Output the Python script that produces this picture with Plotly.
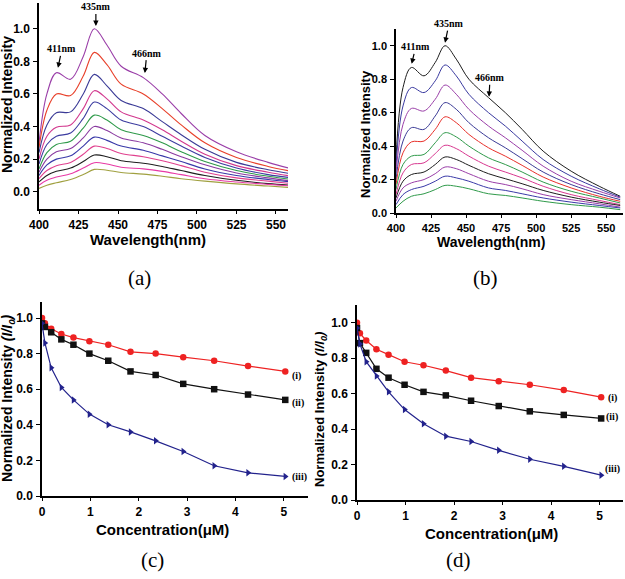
import plotly.graph_objects as go

# ---- panel (a): emission spectra ----
wl = [400, 405, 411, 420, 428, 435, 443, 452, 466, 478, 490, 505, 525, 545, 560]

spec_a = [
    [0.30, 0.60, 0.73, 0.69, 0.83, 1.00, 0.90, 0.77, 0.70, 0.60, 0.48, 0.345, 0.245, 0.18, 0.14],
    [0.27, 0.50, 0.60, 0.59, 0.71, 0.855, 0.78, 0.66, 0.60, 0.51, 0.41, 0.30, 0.21, 0.155, 0.125],
    [0.24, 0.41, 0.485, 0.49, 0.60, 0.72, 0.65, 0.56, 0.51, 0.43, 0.35, 0.26, 0.18, 0.135, 0.11],
    [0.20, 0.34, 0.395, 0.41, 0.51, 0.62, 0.57, 0.49, 0.44, 0.38, 0.31, 0.23, 0.16, 0.12, 0.095],
    [0.17, 0.29, 0.34, 0.36, 0.45, 0.55, 0.51, 0.44, 0.40, 0.34, 0.28, 0.21, 0.145, 0.105, 0.085],
    [0.14, 0.24, 0.29, 0.31, 0.39, 0.47, 0.44, 0.38, 0.345, 0.30, 0.245, 0.185, 0.13, 0.095, 0.075],
    [0.12, 0.20, 0.245, 0.265, 0.33, 0.40, 0.375, 0.33, 0.30, 0.26, 0.215, 0.165, 0.115, 0.085, 0.065],
    [0.10, 0.165, 0.20, 0.22, 0.28, 0.335, 0.315, 0.28, 0.255, 0.22, 0.185, 0.14, 0.10, 0.075, 0.06],
    [0.08, 0.13, 0.16, 0.18, 0.23, 0.28, 0.265, 0.235, 0.215, 0.19, 0.16, 0.12, 0.085, 0.065, 0.05],
    [0.06, 0.10, 0.125, 0.145, 0.185, 0.225, 0.215, 0.19, 0.175, 0.155, 0.13, 0.10, 0.07, 0.05, 0.04],
    [0.04, 0.07, 0.09, 0.11, 0.145, 0.178, 0.17, 0.15, 0.14, 0.125, 0.105, 0.08, 0.06, 0.045, 0.035],
    [0.02, 0.04, 0.055, 0.075, 0.105, 0.137, 0.132, 0.118, 0.108, 0.095, 0.08, 0.065, 0.048, 0.035, 0.025],
]
colors_a = ["#9a3ea8", "#e8402a", "#3a3a96", "#d2388e", "#3c3ca0", "#2f9a4a",
            "#8a3aa0", "#3838a8", "#e0408e", "#1e1e1e", "#e83aa6", "#a0a040"]

# ---- panel (b): emission spectra ----
spec_b = [
    [0.33, 0.75, 0.87, 0.82, 0.90, 1.00, 0.92, 0.80, 0.69, 0.60, 0.50, 0.37, 0.25, 0.16, 0.10],
    [0.28, 0.64, 0.75, 0.72, 0.79, 0.885, 0.82, 0.71, 0.60, 0.52, 0.43, 0.32, 0.22, 0.145, 0.095],
    [0.24, 0.53, 0.625, 0.61, 0.68, 0.765, 0.71, 0.62, 0.52, 0.45, 0.375, 0.28, 0.19, 0.13, 0.09],
    [0.20, 0.43, 0.51, 0.50, 0.58, 0.66, 0.62, 0.54, 0.45, 0.39, 0.325, 0.245, 0.17, 0.115, 0.08],
    [0.17, 0.36, 0.425, 0.43, 0.50, 0.575, 0.54, 0.47, 0.39, 0.34, 0.285, 0.215, 0.15, 0.10, 0.07],
    [0.14, 0.29, 0.34, 0.35, 0.42, 0.48, 0.455, 0.40, 0.33, 0.29, 0.245, 0.185, 0.13, 0.09, 0.06],
    [0.11, 0.24, 0.29, 0.30, 0.355, 0.405, 0.385, 0.34, 0.28, 0.245, 0.21, 0.16, 0.11, 0.075, 0.05],
    [0.09, 0.19, 0.23, 0.245, 0.29, 0.335, 0.32, 0.285, 0.235, 0.205, 0.175, 0.135, 0.095, 0.065, 0.045],
    [0.07, 0.15, 0.18, 0.20, 0.235, 0.275, 0.265, 0.235, 0.19, 0.17, 0.145, 0.11, 0.08, 0.055, 0.035],
    [0.05, 0.11, 0.14, 0.16, 0.19, 0.22, 0.21, 0.19, 0.15, 0.135, 0.115, 0.09, 0.065, 0.045, 0.03],
    [0.03, 0.07, 0.10, 0.115, 0.14, 0.165, 0.16, 0.145, 0.115, 0.105, 0.09, 0.07, 0.05, 0.035, 0.02],
]
colors_b = ["#1e1e1e", "#3a3aa0", "#9a3ea8", "#3a3a96", "#e8302a", "#2f9a4a",
            "#d83890", "#1e1e1e", "#9a3ea8", "#3a3aa8", "#2f9a4a"]

# ---- panels (c), (d): quenching curves ----
conc = [0, 0.06, 0.19, 0.4, 0.65, 0.98, 1.37, 1.83, 2.35, 2.92, 3.56, 4.26, 5.03]

c_i = [1.0, 0.97, 0.94, 0.91, 0.89, 0.87, 0.85, 0.81, 0.80, 0.78, 0.76, 0.73, 0.70]
c_ii = [0.97, 0.95, 0.92, 0.88, 0.85, 0.80, 0.76, 0.70, 0.68, 0.63, 0.60, 0.57, 0.54]
c_iii = [0.97, 0.86, 0.72, 0.61, 0.54, 0.46, 0.40, 0.36, 0.31, 0.25, 0.17, 0.13, 0.11]

d_i = [1.0, 0.94, 0.90, 0.85, 0.82, 0.78, 0.76, 0.73, 0.69, 0.67, 0.65, 0.62, 0.58]
d_ii = [0.97, 0.885, 0.83, 0.74, 0.69, 0.65, 0.61, 0.59, 0.56, 0.53, 0.50, 0.48, 0.46]
d_iii = [0.97, 0.88, 0.78, 0.70, 0.61, 0.51, 0.43, 0.36, 0.33, 0.28, 0.23, 0.19, 0.14]

W, H = 625, 579
SANS = "Liberation Sans, Arial"
SERIF = "Liberation Serif, Times New Roman"


def px_x(a, b):
    return [a / W, b / W]


def px_y(top, bottom):
    return [1 - bottom / H, 1 - top / H]


fig = go.Figure()

for vals, col in zip(spec_a, colors_a):
    fig.add_trace(go.Scatter(x=wl, y=vals, mode="lines", line=dict(color=col, width=1.1, shape="spline", smoothing=1.0),
                             xaxis="x", yaxis="y", showlegend=False))
for vals, col in zip(spec_b, colors_b):
    fig.add_trace(go.Scatter(x=wl, y=vals, mode="lines", line=dict(color=col, width=1.0, shape="spline", smoothing=1.0),
                             xaxis="x2", yaxis="y2", showlegend=False))

series_cd = [
    ("x3", "y3", c_i, "#ee2222", "circle"),
    ("x3", "y3", c_ii, "#111111", "square"),
    ("x3", "y3", c_iii, "#22228c", "triangle-right"),
    ("x4", "y4", d_i, "#ee2222", "circle"),
    ("x4", "y4", d_ii, "#111111", "square"),
    ("x4", "y4", d_iii, "#22228c", "triangle-right"),
]
for xa, ya, vals, col, sym in series_cd:
    fig.add_trace(go.Scatter(x=conc, y=vals, mode="lines+markers", line=dict(color=col, width=1.2),
                             marker=dict(color=col, symbol=sym, size=6.5), xaxis=xa, yaxis=ya, showlegend=False))


def ax(domain, rng, tickvals, fmt, size=11, anchor=None, tl=4):
    d = dict(domain=domain, range=rng, tickvals=tickvals, showline=True, linecolor="black", linewidth=1.5,
             ticks="outside", ticklen=tl, tickwidth=1.2, tickcolor="black", showgrid=False, zeroline=False,
             automargin=False, ticklabelstandoff=1,
             tickfont=dict(family=SANS, size=size, color="black", weight="bold"), mirror=False)
    if fmt:
        d["tickformat"] = fmt
    if anchor:
        d["anchor"] = anchor
    return d


yt = [0, 0.2, 0.4, 0.6, 0.8, 1.0]
fig.update_layout(
    width=W, height=H, margin=dict(l=0, r=0, t=0, b=0, autoexpand=False),
    paper_bgcolor="white", plot_bgcolor="white",
    xaxis=ax(px_x(39, 288), [400, 557.6], [400, 425, 450, 475, 500, 525, 550], None, 12, "y", 3),
    yaxis=ax(px_y(3, 209), [-0.106, 1.158], yt, ".1f", 12, "x"),
    xaxis2=ax(px_x(396, 623), [400, 562], [400, 425, 450, 475, 500, 525, 550], None, 11, "y2", 3),
    yaxis2=ax(px_y(29, 213), [0, 1.10], yt, ".1f", 11, "x2"),
    xaxis3=ax(px_x(42, 308), [0, 5.5], [0, 1, 2, 3, 4, 5], None, 12, "y3", 3),
    yaxis3=ax(px_y(302, 496), [0, 1.09], yt, ".1f", 12, "x3"),
    xaxis4=ax(px_x(357, 623), [0, 5.48], [0, 1, 2, 3, 4, 5], None, 12, "y4", 3),
    yaxis4=ax(px_y(305, 500), [0, 1.10], yt, ".1f", 12, "x4"),
)

ann = []


def title(text, x, y, size=14, angle=0):
    ann.append(dict(text="<b>" + text + "</b>", x=x / W, y=1 - y / H, xref="paper", yref="paper", showarrow=False,
                    textangle=angle, font=dict(family=SANS, size=size, color="black"), xanchor="center", yanchor="middle"))


title("Normalized Intensity", 7, 105, 14, -90)
title("Wavelength(nm)", 148, 240, 15)
title("Normalized Intensity", 366, 134, 13, -90)
title("Wavelength(nm)", 491, 242, 14)
title("Normalized Intensity <i>(I/I<sub>0</sub>)</i>", 8, 398, 14, -90)
title("Concentration(\u03bcM)", 163, 529, 15)
title("Normalized Intensity <i>(I/I<sub>0</sub>)</i>", 320, 410, 13, -90)
title("Concentration(\u03bcM)", 491, 533, 15)

for lab, x, y in [("(a)", 139, 278), ("(b)", 485, 278), ("(c)", 152, 560), ("(d)", 458, 560)]:
    ann.append(dict(text=lab, x=x / W, y=1 - y / H, xref="paper", yref="paper", showarrow=False,
                    font=dict(family=SERIF, size=21, color="black"), xanchor="center", yanchor="middle"))

# peak arrows
peaks = [
    ("x", "y", "411nm", 412, 0.76, 4, -19),
    ("x", "y", "435nm", 436, 1.017, 0, -19),
    ("x", "y", "466nm", 467, 0.728, 2, -20),
    ("x2", "y2", "411nm", 411.2, 0.892, 4, -17),
    ("x2", "y2", "435nm", 435, 1.018, 4, -19),
    ("x2", "y2", "466nm", 466.4, 0.695, 1, -19),
]
for xa, ya, lab, x, y, dx, dy in peaks:
    ann.append(dict(text="<b>" + lab + "</b>", x=x, y=y, xref=xa, yref=ya, showarrow=True, arrowhead=2,
                    arrowsize=0.9, arrowwidth=1.2, arrowcolor="black", ax=dx, ay=dy, standoff=0,
                    font=dict(family=SERIF, size=10, color="black")))

# series labels
for xa, ya, lab, x, y in [("x3", "y3", "(i)", 5.12, 0.675), ("x3", "y3", "(ii)", 5.12, 0.52),
                          ("x3", "y3", "(iii)", 5.12, 0.107), ("x4", "y4", "(i)", 5.12, 0.576),
                          ("x4", "y4", "(ii)", 5.09, 0.469), ("x4", "y4", "(iii)", 5.07, 0.175)]:
    ann.append(dict(text="<b>" + lab + "</b>", x=x, y=y, xref=xa, yref=ya, showarrow=False, xanchor="left",
                    yanchor="middle", font=dict(family=SERIF, size=10, color="black")))

fig.update_layout(annotations=ann)
# drop the default page margin so the figure sits at the window corner
fig.write_html("out.html", config={"displayModeBar": False},
               post_script="document.body.style.margin='0';")
